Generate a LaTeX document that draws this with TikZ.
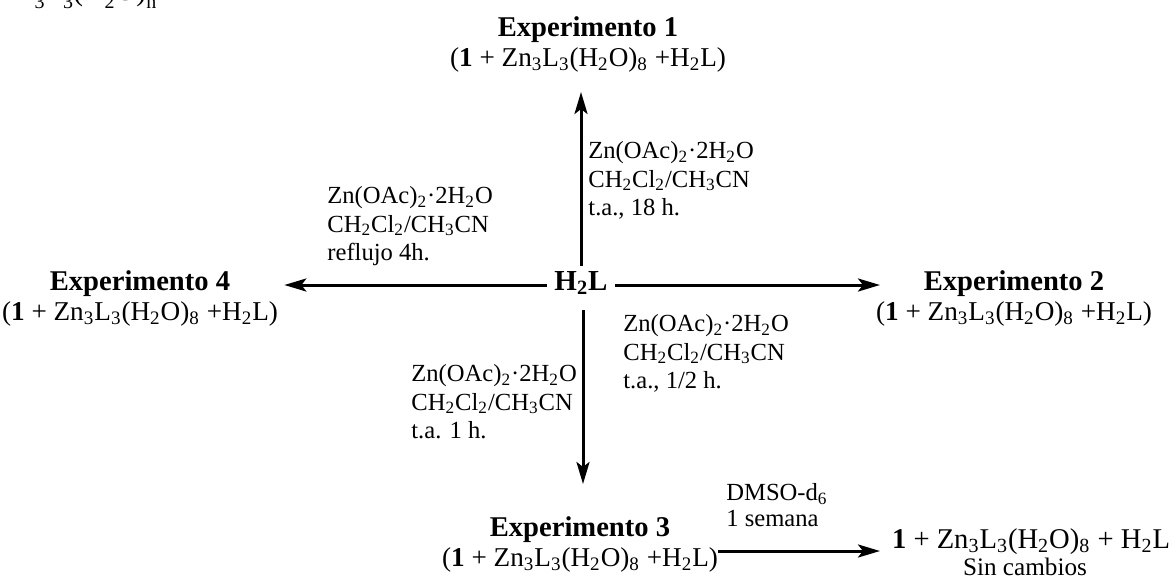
\documentclass[tikz,border=0pt]{standalone}
\usepackage{fontspec}
\setmainfont{Liberation Serif}
\usetikzlibrary{arrows.meta}
\newcommand\subs[1]{\textsubscript{#1}}
\newcommand\lowsb[1]{\raisebox{-4pt}{\fontsize{10}{10}\selectfont #1}}
\newcommand\mixture{{\fontsize{13.6}{15}\selectfont(\textbf{1} + Zn\subs{3}L\subs{3}(H\subs{2}O)\subs{8} +H\subs{2}L)}}
\begin{document}
\begin{tikzpicture}[x=0.5pt,y=-0.5pt,
  txt/.style={font=\fontsize{14.3}{15}\selectfont, align=center, inner sep=0pt, anchor=north},
  cond/.style={font=\fontsize{12.3}{14.3}\selectfont, align=left, anchor=north west, inner sep=0pt},
  arr/.style={line width=1.5pt, -{Stealth[length=11pt,width=6.5pt,inset=2.5pt]}}]
\useasboundingbox (0,0) rectangle (1176,580);
\begin{scope}
\clip (0,0) rectangle (1176,580);
\node[anchor=base west, inner sep=0pt, font=\fontsize{15}{15}\selectfont] (frag) at (1,0.5)
  {Zn\lowsb{3}L\lowsb{3}(H\lowsb{2}O)\lowsb{n}};
\end{scope}
% product nodes
\node[txt] (exp1) at (588,16) {\textbf{Experimento 1}\\\mixture};
\node[txt] (exp4) at (140,270) {\textbf{Experimento 4}\\\mixture};
\node[txt] (exp2) at (1014,270) {\textbf{Experimento 2}\\\mixture};
\node[txt] (exp3) at (580,516) {\textbf{Experimento 3}\\\mixture};
\node[txt, font=\fontsize{14.3}{13.5}\selectfont] (prod) at (1031,528)
  {\textbf{1} + Zn\subs{3}L\subs{3}(H\subs{2}O)\subs{8} + H\subs{2}L\\{\fontsize{12.6}{13.5}\selectfont Sin cambios}\hspace*{6pt}};
\node[font=\fontsize{14.5}{16}\bfseries, minimum width=34pt, minimum height=22pt,
  text height=7pt, text depth=5pt, inner sep=0pt] (h2l) at (581,288) {H\subs{2}L};
% conditions
\node[cond] (c1) at (588,141) {Zn(OAc)\subs{2}·2H\subs{2}O\\CH\subs{2}Cl\subs{2}/CH\subs{3}CN\\t.a., 18 h.};
\node[cond] (c4) at (327,186) {Zn(OAc)\subs{2}·2H\subs{2}O\\CH\subs{2}Cl\subs{2}/CH\subs{3}CN\\reflujo 4h.};
\node[cond] (c2) at (623,314) {Zn(OAc)\subs{2}·2H\subs{2}O\\CH\subs{2}Cl\subs{2}/CH\subs{3}CN\\t.a., 1/2 h.};
\node[cond] (c3) at (411,364) {Zn(OAc)\subs{2}·2H\subs{2}O\\CH\subs{2}Cl\subs{2}/CH\subs{3}CN\\t.a. 1 h.};
\node[cond, font=\fontsize{12.3}{12.8}\selectfont] (dmso) at (726,483) {DMSO-d\subs{6}\\1 semana};
% arrow tips
\coordinate (t1) at (581,92);
\coordinate (t2) at (880,285);
\coordinate (t3) at (583,484);
\coordinate (t5) at (880,551);
% arrows
\draw[arr] (h2l.north) -- (t1);
\draw[arr] (h2l.east |- t2) -- (t2);
\draw[arr] (h2l.south -| t3) -- (t3);
\draw[arr] (h2l.west |- t2) -- ([xshift=3pt]exp4.east |- t2);
\draw[arr] (exp3.east |- t5) -- (t5);
\end{tikzpicture}
\end{document}
